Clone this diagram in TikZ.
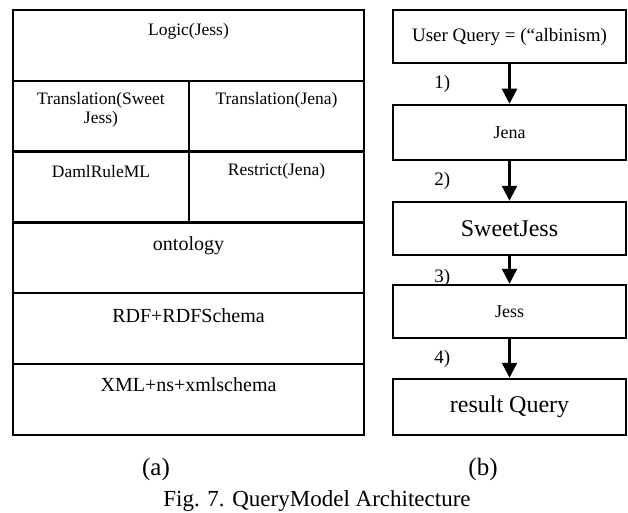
\documentclass[tikz,border=0pt]{standalone}
\usepackage{fontspec}
\setmainfont{Liberation Serif}
\usepackage{tikz}
\usetikzlibrary{arrows.meta,positioning}

\tikzset{
  cell/.style={draw,line width=2.5pt,inner sep=0pt,minimum height=70.8pt},
  stage/.style={draw,line width=2.5pt,inner sep=0pt,minimum width=233pt},
  flow/.style={line width=2.5pt,-{Triangle[width=15pt,length=15pt]}},
  smalltxt/.style={inner sep=0pt,align=center,font=\fontsize{17.5}{18.5}\selectfont},
  midtxt/.style={inner sep=0pt,font=\fontsize{20}{22}\selectfont},
  bigtxt/.style={font=\fontsize{24}{26}\selectfont},
  steplbl/.style={inner sep=0pt,font=\fontsize{19}{21}\selectfont},
  captxt/.style={inner sep=0pt,font=\fontsize{25}{28}\selectfont}
}

\begin{document}
\begin{tikzpicture}[x=1pt,y=-1pt]
\useasboundingbox (0,0) rectangle (628,513);

% (a) the layers
\node[cell,minimum width=351pt] (logic) at (188.5,45.4) {};
\node[cell,minimum width=176pt] (transS) at (101,116.2) {};
\node[cell,minimum width=175pt] (transJ) at (276.5,116.2) {};
\node[cell,minimum width=176pt] (daml) at (101,187) {};
\node[cell,minimum width=175pt] (restr) at (276.5,187) {};
\node[cell,minimum width=351pt] (onto) at (188.5,257.8) {};
\node[cell,minimum width=351pt] (rdf) at (188.5,328.6) {};
\node[cell,minimum width=351pt] (xml) at (188.5,399.4) {};

\node[smalltxt] (tlogic) at ([yshift=-23pt]logic.north) {Logic(Jess)};
\node[smalltxt] (ttransS) at ([yshift=-30pt]transS.north) {Translation(Sweet\\Jess)};
\node[smalltxt] (ttransJ) at ([yshift=-21pt]transJ.north) {Translation(Jena)};
\node[smalltxt] (tdaml) at ([yshift=-21pt]daml.north) {DamlRuleML};
\node[smalltxt] (trestr) at ([yshift=-21pt]restr.north) {Restrict(Jena)};
\node[midtxt] (tonto) at ([yshift=-25pt]onto.north) {ontology};
\node[midtxt] (trdf) at ([yshift=-24pt]rdf.north) {RDF+RDFSchema};
\node[midtxt] (txml) at ([yshift=-22pt]xml.north) {XML+ns+xmlschema};

% (b) the query flow
\node[stage,minimum height=53pt,font=\fontsize{19}{21}\selectfont] (query) at (509.5,36.5) {User Query = (“albinism)};
\node[stage,minimum height=55pt,font=\fontsize{18}{20}\selectfont] (jena) at (509.5,132.5) {Jena};
\node[stage,minimum height=53pt,bigtxt] (sweet) at (509.5,228.5) {SweetJess};
\node[stage,minimum height=53pt,font=\fontsize{18}{20}\selectfont] (jess) at (509.5,311.5) {Jess};
\node[stage,minimum height=56pt,bigtxt] (result) at (509.5,407) {result Query};

\draw[flow] (query) -- node[steplbl,left=58pt] (s1) {1)} (jena);
\draw[flow] (jena) -- node[steplbl,left=58pt] (s2) {2)} (sweet);
\draw[flow] (sweet) -- node[steplbl,left=58pt,pos=.78] (s3) {3)} (jess);
\draw[flow] (jess) -- node[steplbl,left=58pt] (s4) {4)} (result);

% captions
\node[captxt] (capa) at (156,469) {(a)};
\node[captxt] (capb) at (483,469) {(b)};
\node[captxt,font=\fontsize{23}{26}\selectfont,anchor=base] (fig) at (317,506) {Fig. 7. QueryModel Architecture};
\end{tikzpicture}
\end{document}
